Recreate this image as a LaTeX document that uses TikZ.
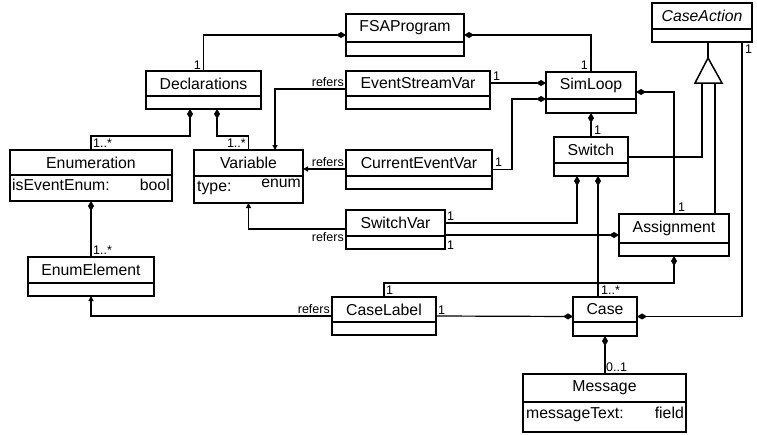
\documentclass[tikz,border=0pt]{standalone}
\usepackage{fontspec}
\setmainfont{Liberation Sans}
\usetikzlibrary{arrows.meta}
\tikzset{
  boxline/.style={line width=1.5pt},
  clsbox/.style={draw, line width=1.5pt, fill=white, inner sep=0pt, outer sep=0pt},
  clstitle/.style={inner sep=0pt, font=\fontsize{15.8}{18}\selectfont},
  attr/.style={inner sep=0pt, font=\fontsize{15.8}{18}\selectfont},
  lbl/.style={inner sep=0pt, font=\fontsize{12.5}{14}\selectfont},
  conn/.style={line width=1.2pt},
  comp/.style={conn, {Diamond[length=10pt,width=6pt]}-},
  refto/.style={conn, -{Triangle[length=5pt,width=5pt]}},
}
\newcommand{\umlcls}[7]{%
  \node[clsbox, anchor=north west, minimum width={(#4-#2)*1pt}, minimum height={(#5-#3)*1pt}] (#1) at (#2,#3) {};
  \draw[boxline] (#2,#6) -- (#4,#6);
  \node[clstitle] (#1-t) at ({(#2+#4)/2},{(#3+#6)/2}) {#7};
}
\begin{document}
\begin{tikzpicture}[x=1pt,y=-1pt]
\useasboundingbox (0,0) rectangle (757,434);

% classes
\umlcls{FSAProgram}{346}{14}{464}{56}{42}{FSAProgram}
\umlcls{Declarations}{146}{71}{261}{109}{96}{Declarations}
\umlcls{EventStreamVar}{346}{71}{490}{109}{96}{EventStreamVar}
\umlcls{SimLoop}{546}{72}{636}{113}{99}{SimLoop}
\umlcls{CaseAction}{652}{3}{752}{42}{29}{\itshape CaseAction}
\umlcls{Switch}{554}{137}{628}{176}{163}{Switch}
\umlcls{Enumeration}{10}{150}{172}{201}{175}{Enumeration}
\umlcls{Variable}{194}{150}{303}{203}{176}{Variable}
\umlcls{CurrentEventVar}{346}{150}{492}{189}{176}{CurrentEventVar}
\umlcls{SwitchVar}{346}{210}{445}{249}{236}{SwitchVar}
\umlcls{Assignment}{619}{214}{729}{256}{243}{Assignment}
\umlcls{EnumElement}{28}{257}{154}{296}{283}{EnumElement}
\umlcls{CaseLabel}{332}{297}{436}{335}{322}{CaseLabel}
\umlcls{Case}{573}{297}{637}{336}{322}{Case}
\umlcls{Message}{523}{374}{686}{432}{402}{Message}

% attributes
\node[attr, anchor=base west] (a1) at (12,190) {isEventEnum:};
\node[attr, anchor=base east] (a2) at (170,190) {bool};
\node[attr, anchor=base west] (a3) at (197,191) {type:};
\node[attr, anchor=base east] (a4) at (301,187) {enum};
\node[attr, anchor=base west] (a5) at (526,418) {messageText:};
\node[attr, anchor=base east] (a6) at (684,418) {field};

% generalization
\coordinate (genapex) at (708,58);
\coordinate (genL) at (695,83);
\coordinate (genR) at (722,83);
\draw[conn] (CaseAction.south -| genapex) -- (genapex);
\draw[conn] (Switch.east |- 0,157) -| (genL -| 702,0);
\draw[conn] (Assignment.north -| 715,0) -- (genL -| 715,0);
\draw[boxline, fill=white] (genapex) -- (genR) -- (genL) -- cycle;

% connectors
\draw[comp] (FSAProgram.west) -| (Declarations.north);
\draw[comp] (FSAProgram.east) -| (SimLoop.north);
\draw[comp] (SimLoop.west |- 0,83) -- (EventStreamVar.east |- 0,83);
\draw[refto] (EventStreamVar.west |- 0,89) -| (Variable.north -| 275,0);
\draw[refto] (CurrentEventVar.west |- 0,169) -- (Variable.east |- 0,169);
\draw[comp] (SimLoop.west |- 0,99) -| ([xshift=20pt]CurrentEventVar.east) -- (CurrentEventVar.east);
\draw[comp] (SimLoop.south) -- (Switch.north);
\draw[comp] (SimLoop.east |- 0,92) -| (Assignment.north);
\draw[comp] (Case.east) -| (CaseAction.south -| 742,0);
\draw[comp] (Switch.south -| 577,0) |- (SwitchVar.east |- 0,223);
\draw[comp] (Assignment.west |- 0,235) -- (SwitchVar.east |- 0,235);
\draw[comp] (Switch.south -| 598,0) -- (Case.north -| 598,0);
\draw[refto] (SwitchVar.west |- 0,229) -| (Variable.south);
\draw[comp] (Declarations.south -| 190,0) |- (Enumeration.north |- 0,136) -- (Enumeration.north);
\draw[comp] (Declarations.south -| 217,0) |- (Variable.north |- 0,136) -- (Variable.north);
\draw[comp] (Enumeration.south) -- (EnumElement.north);
\draw[refto] (CaseLabel.west) -| (EnumElement.south);
\draw[comp] (Case.west) -- (CaseLabel.east);
\draw[comp] (Assignment.south) |- (CaseLabel.north |- 0,283) -- (CaseLabel.north);
\draw[comp] (Case.south) -- (Message.north -| Case.south);

% multiplicity and role labels
\node[lbl, anchor=south east] (l1) at (201,70) {1};
\node[lbl, anchor=south east] (l2) at (588,70) {1};
\node[lbl, anchor=south west] (l3) at (493,81) {1};
\node[lbl, anchor=south east] (l4) at (344,87) {refers};
\node[lbl, anchor=south east] (l5) at (344,167) {refers};
\node[lbl, anchor=south west] (l6) at (495,167) {1};
\node[lbl, anchor=south west] (l7) at (594,135) {1};
\node[lbl, anchor=south west] (l8) at (678,212) {1};
\node[lbl, anchor=north west] (l9) at (745,45) {1};
\node[lbl, anchor=south west] (l10) at (447,221) {1};
\node[lbl, anchor=north west] (l11) at (447,241) {1};
\node[lbl, anchor=south west] (l12) at (601,295) {1..*};
\node[lbl, anchor=north east] (l13) at (344,232) {refers};
\node[lbl, anchor=south west] (l14) at (93,148) {1..*};
\node[lbl, anchor=south east] (l15) at (246,148) {1..*};
\node[lbl, anchor=south west] (l16) at (93,255) {1..*};
\node[lbl, anchor=south east] (l17) at (330,314) {refers};
\node[lbl, anchor=south west] (l18) at (438,315) {1};
\node[lbl, anchor=south west] (l19) at (386,295) {1};
\node[lbl, anchor=south west] (l20) at (606,372) {0..1};
\end{tikzpicture}
\end{document}
